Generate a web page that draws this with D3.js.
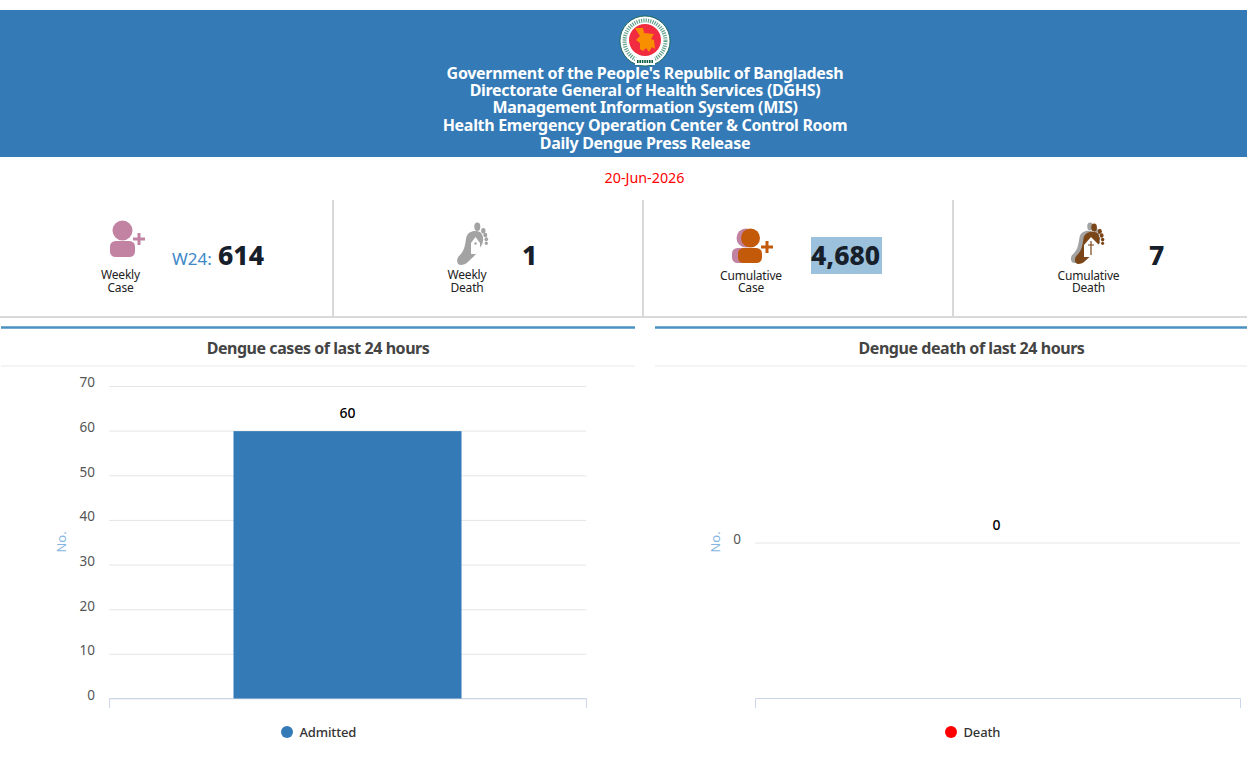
<!DOCTYPE html>
<html>
<head>
<meta charset="utf-8">
<script src="https://d3js.org/d3.v7.min.js"></script>
<style>
  body { margin: 0; background: #fff; font-family: "Noto Sans", sans-serif; overflow: hidden; }
  svg { display: block; }
  .grid line { stroke: #e6e6e6; }
  .grid path { display: none; }
  .grid text { fill: #555; font-size: 13.5px; font-family: "Noto Sans", sans-serif; }
  .base path { stroke: #ccd6eb; fill: none; }
</style>
</head>
<body>
<div id="chart"></div>
<script>
// header text
const headerLines = [
  "Government of the People's Republic of Bangladesh",
  "Directorate General of Health Services (DGHS)",
  "Management Information System (MIS)",
  "Health Emergency Operation Center & Control Room",
  "Daily Dengue Press Release"
]
const headerY = [79, 96, 113, 131, 149]
const reportDate = "20-Jun-2026"

// summary cards
const cardLabels = [["Weekly", "Case"], ["Weekly", "Death"], ["Cumulative", "Case"], ["Cumulative", "Death"]]
const cardValues = ["614", "1", "4,680", "7"]
const weekLabel = "W24:"

// charts
const caseCategories = ["Admitted"]
const caseValues = [60]
const caseTicks = [0, 10, 20, 30, 40, 50, 60, 70]
const deathCategories = ["Death"]
const deathValues = [0]
const deathTicks = [0]

const blue = "#337ab7"

const svg = d3.select("#chart").append("svg").attr("width", 1247).attr("height", 780)

// ---- banner
svg.append("rect").attr("x", 0).attr("y", 10).attr("width", 1247).attr("height", 147).attr("fill", blue)

const emblem = svg.append("g").attr("transform", "translate(645,41)")
emblem.append("circle").attr("r", 25).attr("fill", "#fff").attr("stroke", "#0d5c3f").attr("stroke-width", 0.8)
emblem.append("circle").attr("r", 20.5).attr("fill", "none").attr("stroke", "#1f7a5a").attr("stroke-width", 4)
  .attr("stroke-dasharray", "1.2 1.1").attr("opacity", 0.7)
emblem.append("circle").attr("cy", -1).attr("r", 16).attr("fill", "#f22c40")
emblem.append("path").attr("fill", "#f78f00")
  .attr("d", "M-10,-13 L-2,-13 L-1,-8 L9,-7 L6,-2 L9,-1 L10,8 L7,6 L4,11 L1,7 L-2,10 L-5,8 L-5,2 L-9,-1 L-5,-5 Z")
// small seal wording at the foot of the ring
emblem.append("rect").attr("x", -10).attr("y", 16.5).attr("width", 20).attr("height", 7.5).attr("fill", "#fff")
emblem.append("line").attr("x1", -8).attr("x2", 8).attr("y1", 20.5).attr("y2", 20.5)
  .attr("stroke", "#0d5c3f").attr("stroke-width", 3).attr("stroke-dasharray", "1.6 0.8")

svg.append("g").selectAll("text").data(headerLines).join("text")
  .attr("x", 645).attr("y", (d, i) => headerY[i])
  .attr("text-anchor", "middle").attr("fill", "#fff")
  .attr("font-size", 16).attr("font-weight", 700).attr("letter-spacing", -0.3)
  .text(d => d)

svg.append("text").attr("x", 644.5).attr("y", 183).attr("text-anchor", "middle")
  .attr("fill", "#f00").attr("font-size", 14.3).text(reportDate)

// ---- cards
const cardDividers = [333, 643, 953]
svg.append("g").selectAll("line").data(cardDividers).join("line")
  .attr("x1", d => d).attr("x2", d => d).attr("y1", 200).attr("y2", 317)
  .attr("stroke", "#d9d9d9").attr("stroke-width", 2)
svg.append("line").attr("x1", 0).attr("x2", 1247).attr("y1", 317).attr("y2", 317)
  .attr("stroke", "#d9d9d9").attr("stroke-width", 2)

const footPath = "M-12,21 C-17,21,-17,14,-13,11 C-9,7,-8,2,-7,-5 C-6,-13,2,-14,7,-12 C11,-9,11,-2,8,2 C5,7,3,11,-2,15 C-5,18,-8,21,-12,21Z"
const toes = [[4.3, -17.3, 3, 4.2], [10.3, -13.3, 2.2, 2.8], [12.3, -9, 2, 2.3], [13.3, -4.7, 1.8, 2], [13.3, -0.7, 1.6, 1.8]]

function person(g, x, y, color, headR, bodyX, bodyW, bodyH) {
  g.append("circle").attr("cx", x).attr("cy", y).attr("r", headR).attr("fill", color)
  g.append("rect").attr("x", bodyX).attr("y", y + headR + 0.5).attr("width", bodyW).attr("height", bodyH)
    .attr("rx", 5.5).attr("fill", color)
}
function plus(g, x, y, color) {
  g.append("path").attr("d", `M${x - 6},${y}H${x + 6}M${x},${y - 6}V${y + 6}`)
    .attr("stroke", color).attr("stroke-width", 3).attr("fill", "none")
}
function foot(g, x, y, color, k) {
  const f = g.append("g").attr("transform", `translate(${x},${y}) scale(${k})`).attr("fill", color)
  f.append("path").attr("d", footPath)
  f.selectAll("ellipse").data(toes).join("ellipse")
    .attr("cx", d => d[0]).attr("cy", d => d[1]).attr("rx", d => d[2]).attr("ry", d => d[3])
  return f
}

const icons = svg.append("g")
person(icons, 122.5, 230.5, "#c283a3", 10, 110, 25, 16)
plus(icons, 139, 239, "#c283a3")

foot(icons, 473, 244, "#a3a3a3", 1)
icons.append("path").attr("fill", "#fff").attr("d", "M471,254V243L475.5,237L480,243V249L476,254Z")
icons.append("circle").attr("cx", 475.5).attr("cy", 243.5).attr("r", 1.2).attr("fill", "#a3a3a3")

person(icons, 746, 238, "#c283a3", 9.5, 732, 26, 15)
person(icons, 750.5, 238, "#c35a0a", 9.5, 738, 24, 15)
plus(icons, 767, 247, "#c35a0a")

foot(icons, 1086, 243, "#a3a3a3", 0.95)
foot(icons, 1090, 244, "#7a4517", 0.95)
icons.append("path").attr("fill", "#fff").attr("d", "M1084,257V245L1091,237L1099,245V250L1092,257Z")
icons.append("path").attr("stroke", "#7a4517").attr("stroke-width", 1.2).attr("d", "M1091,241V255M1088,245H1094")

// card labels
const labelX = [120.5, 467, 751, 1088.5]
const labelY = [[279, 292], [279, 292], [280, 292], [280, 292]]
const labels = svg.append("g").attr("font-size", 12).attr("fill", "#222").attr("text-anchor", "middle")
cardLabels.forEach((pair, i) => {
  pair.forEach((t, j) => {
    labels.append("text").attr("x", labelX[i]).attr("y", labelY[i][j]).attr("letter-spacing", -0.2).text(t)
  })
})

// highlighted value, as in the reference
svg.append("rect").attr("x", 811).attr("y", 237).attr("width", 71).attr("height", 37).attr("fill", "#9bc1dc")

const valueX = [218, 522, 811, 1149]
svg.append("g").selectAll("text").data(cardValues).join("text")
  .attr("x", (d, i) => valueX[i]).attr("y", 265)
  .attr("font-size", 26.5).attr("font-weight", 800).attr("fill", "#17202a")
  .text(d => d)
svg.append("text").attr("x", 172).attr("y", 265).attr("font-size", 17).attr("fill", "#3c87c8").text(weekLabel)

// ---- chart panels
function panel(x0, x1, title, titleX) {
  svg.append("line").attr("x1", x0).attr("x2", x1).attr("y1", 327.5).attr("y2", 327.5)
    .attr("stroke", "#4a90c0").attr("stroke-width", 2.4)
  svg.append("line").attr("x1", x0).attr("x2", x1).attr("y1", 366).attr("y2", 366)
    .attr("stroke", "#f0f0f0").attr("stroke-width", 1.5)
  svg.append("text").attr("x", titleX).attr("y", 354).attr("text-anchor", "middle")
    .attr("font-size", 16).attr("font-weight", 700).attr("letter-spacing", -0.45).attr("fill", "#444").text(title)
}

function barChart(o) {
  const g = svg.append("g")
  const x = d3.scaleBand().domain(o.categories).range([o.left, o.right]).paddingInner(0).paddingOuter(0)
  const y = d3.scaleLinear().domain(o.domain).range(o.range)

  const grid = g.append("g").attr("class", "grid").attr("transform", `translate(${o.left},0)`)
    .call(d3.axisLeft(y).tickValues(o.ticks).tickFormat(d3.format("d")).tickSize(-(o.right - o.left)).tickPadding(o.pad))
  grid.selectAll("text").attr("dy", "0.07em")

  g.append("g").attr("class", "base").attr("transform", `translate(0,${o.base})`)
    .call(d3.axisBottom(x).tickValues([]).tickSizeOuter(10))

  const barW = x.bandwidth() * 0.478
  g.selectAll("rect.bar").data(o.values).join("rect").attr("class", "bar")
    .attr("x", (d, i) => x(o.categories[i]) + (x.bandwidth() - barW) / 2)
    .attr("width", barW)
    .attr("y", d => y(d) + 0.5)
    .attr("height", d => y(0) - y(d) - 0.5)
    .attr("fill", o.color)

  g.selectAll("text.val").data(o.values).join("text").attr("class", "val")
    .attr("x", (d, i) => x(o.categories[i]) + x.bandwidth() / 2 + o.valDx)
    .attr("y", d => y(d) - 12.5)
    .attr("text-anchor", "middle").attr("font-size", 14).attr("font-weight", 500).attr("fill", "#000")
    .text(d => d)

  g.append("text").attr("transform", `translate(${o.nameX},${o.nameY}) rotate(-90)`)
    .attr("text-anchor", "middle").attr("font-size", 13).attr("fill", "#85b7e2").text("No.")

  const legend = g.append("g").attr("transform", `translate(${o.legendX},732)`)
  legend.append("circle").attr("r", 6).attr("fill", o.color)
  legend.append("text").attr("x", 12.5).attr("y", 5).attr("font-size", 13).attr("font-weight", 500)
    .attr("letter-spacing", -0.15).attr("fill", "#333")
    .text(o.categories[0])
}

panel(1, 635, "Dengue cases of last 24 hours", 318)
panel(655, 1247, "Dengue death of last 24 hours", 971.5)

barChart({
  categories: caseCategories, values: caseValues, ticks: caseTicks,
  domain: [0, 70], range: [698.5, 386], left: 109, right: 586, base: 698, pad: 14,
  color: blue, valDx: 0, nameX: 66, nameY: 542, legendX: 287
})
barChart({
  categories: deathCategories, values: deathValues, ticks: deathTicks,
  domain: [0, 1], range: [542.5, 386], left: 755, right: 1240, base: 698, pad: 14,
  color: "#f00", valDx: -1, nameX: 720, nameY: 542, legendX: 951
})
</script>
</body>
</html>
